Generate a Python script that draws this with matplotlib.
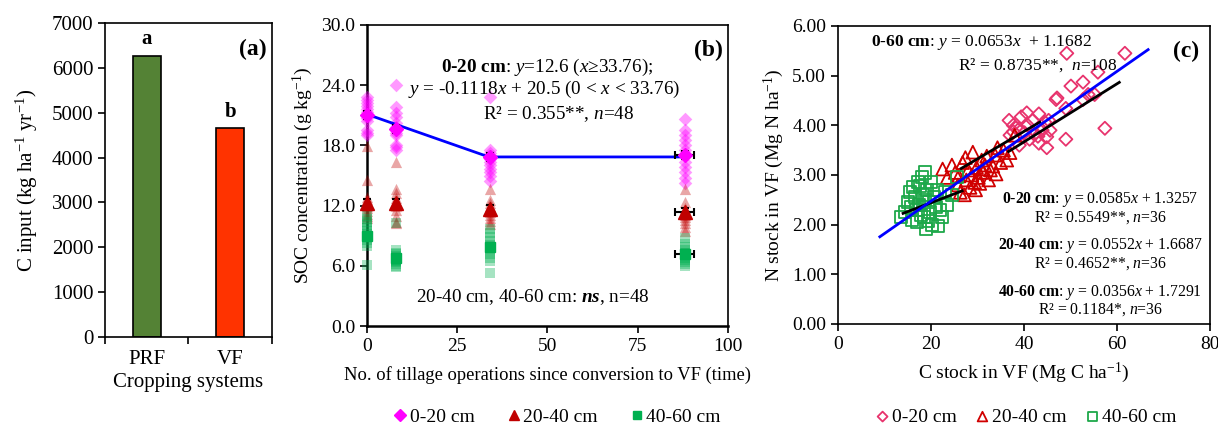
import numpy as np
import matplotlib.pyplot as plt

plt.rcParams['font.family'] = ['Liberation Serif', 'DejaVu Serif']
plt.rcParams['mathtext.fontset'] = 'custom'
plt.rcParams['mathtext.rm'] = 'Liberation Serif'
plt.rcParams['mathtext.it'] = 'Liberation Serif:italic'
plt.rcParams['mathtext.bf'] = 'Liberation Serif:bold'
plt.rcParams['mathtext.bfit'] = 'Liberation Serif:italic:bold'

# ---- panel (a): C input
systems = ['PRF', 'VF']
c_input = [6260, 4650]
sig_letters = ['a', 'b']

# ---- panel (b): SOC vs number of tillage operations
tillage = [0, 8, 34, 88]
soc_0_20 = [
    [22.8, 22.5, 22.2, 21.9, 21.6, 21.3, 21.0, 20.7, 20.4, 19.5, 19.2, 19.0],
    [24.0, 21.8, 21.2, 20.8, 20.2, 19.8, 19.5, 19.2, 18.0, 17.8, 17.5, 19.0],
    [22.8, 17.5, 17.2, 16.9, 16.6, 16.3, 16.0, 15.6, 15.3, 15.0, 14.5, 16.8],
    [20.6, 19.5, 19.0, 18.5, 18.0, 17.5, 17.0, 16.3, 15.8, 15.3, 14.8, 14.3],
]
soc_20_40 = [
    [17.9, 14.6, 12.9, 12.5, 12.2, 12.0, 11.8, 11.5, 11.2, 11.0, 10.8, 12.7],
    [16.3, 13.7, 13.3, 12.8, 12.5, 12.3, 12.0, 11.6, 11.0, 10.4, 10.3, 12.2],
    [13.7, 12.6, 12.3, 12.0, 11.7, 11.4, 11.1, 10.8, 10.5, 10.2, 11.5, 11.9],
    [13.7, 12.4, 11.8, 11.4, 11.1, 10.9, 10.6, 10.3, 9.9, 9.5, 11.2, 11.6],
]
soc_40_60 = [
    [11.0, 10.7, 10.4, 10.1, 9.8, 9.5, 9.2, 8.9, 8.6, 8.3, 8.0, 6.1],
    [10.3, 7.6, 7.3, 7.0, 6.8, 6.6, 6.4, 6.2, 6.0, 5.9, 7.2, 6.5],
    [9.7, 9.3, 8.9, 8.5, 8.1, 7.8, 7.5, 7.2, 6.8, 6.5, 5.3, 7.9],
    [8.8, 8.2, 7.9, 7.6, 7.3, 7.0, 6.8, 6.6, 6.4, 6.2, 6.0, 7.1],
]
mean_0_20 = [21.0, 19.6, 16.8, 17.0]
mean_20_40 = [12.3, 12.3, 11.7, 11.4]
mean_40_60 = [9.0, 6.8, 7.9, 7.2]
yerr_b = [0.4, 0.4, 0.4, 0.4]
xerr_b = [0, 0, 0, 2.6]
fit_x = [0, 33.76, 88]
fit_y = [21.1, 16.85, 16.85]

# ---- panel (c): N stock vs C stock
c_0_20 = [49.2, 61.7, 55.9, 52.7, 50.1, 47.1, 46.9, 53.8, 52.7, 49.0, 57.4, 49.0,
          36.8, 39.4, 40.6, 43.2, 37.7, 37.0, 39.0, 40.8, 42.2, 43.9, 45.3, 45.6,
          44.9, 43.2, 44.9, 39.0, 41.2, 40.1, 41.9, 44.5, 43.0, 37.7, 55.2, 38.3]
n_0_20 = [5.45, 5.45, 5.07, 4.87, 4.79, 4.55, 4.52, 4.62, 4.52, 4.34, 3.94, 3.72,
          4.10, 4.17, 4.25, 4.23, 3.87, 3.80, 3.93, 4.00, 3.82, 3.90, 4.10, 3.90,
          3.77, 3.64, 3.55, 3.60, 3.72, 3.85, 4.10, 4.06, 3.78, 4.00, 4.62, 3.95]
c_20_40 = [22.5, 23.5, 24.5, 25.2, 25.8, 26.3, 26.8, 27.2, 27.6, 28.0, 28.4, 28.8,
           29.0, 29.4, 29.8, 30.2, 30.5, 30.9, 31.2, 31.6, 32.0, 32.4, 32.8, 33.3,
           33.8, 34.3, 35.0, 35.6, 36.3, 37.0, 38.0, 27.4, 29.6, 31.0, 26.0, 34.0]
n_20_40 = [3.12, 2.95, 3.20, 3.05, 2.80, 2.65, 3.25, 2.60, 2.90, 3.10, 2.75, 3.00,
           3.46, 2.85, 3.15, 2.95, 2.83, 3.30, 3.05, 3.20, 3.38, 2.90, 3.10, 3.18,
           3.40, 3.55, 3.25, 3.50, 3.30, 3.45, 3.80, 3.35, 2.70, 3.12, 2.98, 3.02]
c_40_60 = [13.5, 14.5, 15.0, 15.5, 15.8, 16.0, 16.2, 16.5, 16.8, 17.0, 17.2, 17.5,
           17.8, 18.0, 18.2, 18.5, 18.7, 19.0, 19.2, 19.5, 19.8, 20.0, 20.3, 20.6,
           21.0, 21.3, 21.6, 22.0, 22.4, 23.0, 23.5, 24.5, 25.5, 18.8, 17.6, 19.3]
n_40_60 = [2.15, 2.25, 2.45, 2.65, 2.35, 2.10, 2.75, 2.55, 2.30, 2.05, 2.85, 2.40,
           2.20, 2.95, 2.60, 2.15, 3.05, 1.92, 2.70, 2.45, 2.25, 2.85, 2.00, 2.55,
           2.35, 2.70, 1.97, 2.30, 2.15, 2.65, 2.40, 2.60, 2.95, 2.50, 2.78, 2.08]
# regression lines: slope, intercept, x-range
fits_c = {
    '0-60': (0.0653, 1.1682, 9.0, 66.7),
    '0-20': (0.0585, 1.3257, 36.7, 60.5),
    '20-40': (0.0552, 1.6687, 26.5, 43.4),
    '40-60': (0.0356, 1.7291, 14.0, 26.7),
}

MAG = '#FF00FF'
DRED = '#C00000'
GRN = '#00B050'
PINK = '#E8336D'
RED_C = '#D00000'
GRN_C = '#1EA84A'
TS = 14  # tick/label size

fig = plt.figure(figsize=(12.18, 4.28), dpi=100)

# ================= (a)
ax1 = fig.add_axes([0.0862, 0.2126, 0.1371, 0.7337])
xa = np.arange(len(systems))
ax1.bar(xa, c_input, width=0.33, color=['#548235', '#FF3300'],
        edgecolor='black', linewidth=1.2)
for xi, v, s in zip(xa, c_input, sig_letters):
    ax1.text(xi, v + 150, s, ha='center', va='bottom', fontsize=15,
             fontweight='bold')
ax1.set_xlim(-0.5, 1.5)
ax1.set_ylim(0, 7000)
ax1.set_yticks(range(0, 7001, 1000))
ax1.set_xticks([-0.5, 0.5, 1.5])
ax1.set_xticklabels([])
ax1.set_xticks(xa, minor=True)
ax1.set_xticklabels(systems, minor=True)
ax1.tick_params(axis='x', which='minor', length=0, labelsize=15, pad=9)
ax1.tick_params(axis='x', which='major', length=5, width=1.2)
ax1.tick_params(axis='y', labelsize=15, length=5, width=1.2)
ax1.set_xlabel('Cropping systems', fontsize=15, labelpad=3)
ax1.set_ylabel('C input (kg ha$^{-1}$ yr$^{-1}$)', fontsize=15, labelpad=8)
ax1.text(0.97, 0.95, '(a)', transform=ax1.transAxes, ha='right', va='top',
         fontsize=17, fontweight='bold')
for sp in ax1.spines.values():
    sp.set_linewidth(1.2)

# ================= (b)
ax2 = fig.add_axes([0.3013, 0.2383, 0.2964, 0.7033])
for i, xv in enumerate(tillage):
    ax2.scatter([xv] * len(soc_0_20[i]), soc_0_20[i], marker='D', s=48,
                color=MAG, alpha=0.4, linewidths=0, clip_on=False, zorder=3)
    ax2.scatter([xv] * len(soc_20_40[i]), soc_20_40[i], marker='^', s=65,
                color=DRED, alpha=0.35, linewidths=0, clip_on=False, zorder=3)
    ax2.scatter([xv] * len(soc_40_60[i]), soc_40_60[i], marker='s', s=50,
                color=GRN, alpha=0.35, linewidths=0, clip_on=False, zorder=3)
ax2.plot(fit_x, fit_y, color='#0000FF', lw=2, zorder=4)
for means, col, mk, lab, ms in [(mean_0_20, MAG, 'D', '0-20 cm', 7.5),
                                (mean_20_40, DRED, '^', '20-40 cm', 9.5),
                                (mean_40_60, GRN, 's', '40-60 cm', 7.5)]:
    ax2.errorbar(tillage, means, yerr=yerr_b, xerr=xerr_b, fmt='none',
                 ecolor='black', elinewidth=1.5, capsize=3, capthick=1.5,
                 zorder=5, clip_on=False)
    ax2.plot(tillage, means, linestyle='none', marker=mk, color=col,
             markersize=ms, label=lab, zorder=6, clip_on=False)
ax2.set_xlim(0, 100)
ax2.set_ylim(0, 30)
ax2.set_xticks([0, 25, 50, 75, 100])
ax2.set_yticks(np.arange(0, 30.1, 6))
ax2.set_yticklabels(['%.1f' % v for v in np.arange(0, 30.1, 6)])
ax2.tick_params(labelsize=TS, length=5, width=1.2)
ax2.set_xlabel('No. of tillage operations since conversion to VF (time)',
               fontsize=13.3, labelpad=8)
ax2.set_ylabel('SOC concentration (g kg$^{-1}$)', fontsize=TS, labelpad=4)
ax2.text(0.985, 0.95, '(b)', transform=ax2.transAxes, ha='right', va='top',
         fontsize=17, fontweight='bold')
ax2.text(0.50, 0.86, r'$\mathbf{0‐20\ cm}$: $y$=12.6 ($x$≥33.76);',
         transform=ax2.transAxes, ha='center', va='center', fontsize=13.8)
ax2.text(0.49, 0.785, r'$y$ = -0.1118$x$ + 20.5 (0 < $x$ < 33.76)',
         transform=ax2.transAxes, ha='center', va='center', fontsize=13.8)
ax2.text(0.53, 0.705, r'R² = 0.355**, $n$=48',
         transform=ax2.transAxes, ha='center', va='center', fontsize=13.8)
ax2.text(0.458, 0.095, r'20-40 cm, 40-60 cm: $\mathbfit{ns}$, n=48',
         transform=ax2.transAxes, ha='center', va='center', fontsize=13.8)
for sp in ax2.spines.values():
    sp.set_linewidth(1.2)
ax2.spines['left'].set_linewidth(1.8)
ax2.spines['bottom'].set_linewidth(1.8)
ax2.legend(loc='center', bbox_to_anchor=(0.457, 0.026),
           bbox_transform=fig.transFigure, ncol=3, frameon=False,
           fontsize=TS, handletextpad=0.1, columnspacing=1.6,
           handlelength=0.8, markerscale=0.8, borderpad=0)

# ================= (c)
ax3 = fig.add_axes([0.688, 0.243, 0.3054, 0.6963])
ax3.scatter(c_0_20, n_0_20, marker='D', s=45, facecolors='none',
            edgecolors=PINK, linewidths=1.3, label='0-20 cm', zorder=3)
ax3.scatter(c_20_40, n_20_40, marker='^', s=85, facecolors='none',
            edgecolors=RED_C, linewidths=1.3, label='20-40 cm', zorder=3)
ax3.scatter(c_40_60, n_40_60, marker='s', s=75, facecolors='none',
            edgecolors=GRN_C, linewidths=1.3, label='40-60 cm', zorder=3)
for key, (sl, ic, x0, x1) in fits_c.items():
    xs = np.array([x0, x1])
    col = '#0000FF' if key == '0-60' else 'black'
    ax3.plot(xs, sl * xs + ic, color=col, lw=2, zorder=5 if key == '0-60' else 4)
ax3.set_xlim(0, 80)
ax3.set_ylim(0, 6)
ax3.set_xticks([0, 20, 40, 60, 80])
ax3.set_yticks(np.arange(0, 6.01, 1))
ax3.set_yticklabels(['%.2f' % v for v in np.arange(0, 6.01, 1)])
ax3.tick_params(labelsize=TS, length=5, width=1.2)
ax3.set_xlabel('C stock in VF (Mg C ha$^{-1}$)', fontsize=TS, labelpad=6)
ax3.set_ylabel('N stock in VF (Mg N ha$^{-1}$)', fontsize=TS, labelpad=4)
ax3.text(0.97, 0.95, '(c)', transform=ax3.transAxes, ha='right', va='top',
         fontsize=17, fontweight='bold')
ax3.text(0.09, 0.945, r'$\mathbf{0‐60\ cm}$: $y$ = 0.0653$x$  + 1.1682',
         transform=ax3.transAxes, ha='left', va='center', fontsize=12.5)
ax3.text(0.75, 0.87, r'R² = 0.8735**,  $n$=108',
         transform=ax3.transAxes, ha='right', va='center', fontsize=12.5)
ann = [(r'$\mathbf{0‐20\ cm}$: $y$ = 0.0585$x$ + 1.3257', 0.417),
       (r'R² = 0.5549**, $n$=36', 0.356),
       (r'$\mathbf{20‐40\ cm}$: $y$ = 0.0552$x$ + 1.6687', 0.262),
       (r'R² = 0.4652**, $n$=36', 0.204),
       (r'$\mathbf{40‐60\ cm}$: $y$ = 0.0356$x$ + 1.7291', 0.107),
       (r'R² = 0.1184*, $n$=36', 0.047)]
for s, yy in ann:
    ax3.text(0.705, yy, s, transform=ax3.transAxes, ha='center', va='center',
             fontsize=11.3)
for sp in ax3.spines.values():
    sp.set_linewidth(1.2)
ax3.legend(loc='center', bbox_to_anchor=(0.842, 0.026),
           bbox_transform=fig.transFigure, ncol=3, frameon=False,
           fontsize=TS, handletextpad=0.1, columnspacing=0.9,
           handlelength=0.8, markerscale=0.75, borderpad=0)

fig.savefig('out.png', dpi=100)
